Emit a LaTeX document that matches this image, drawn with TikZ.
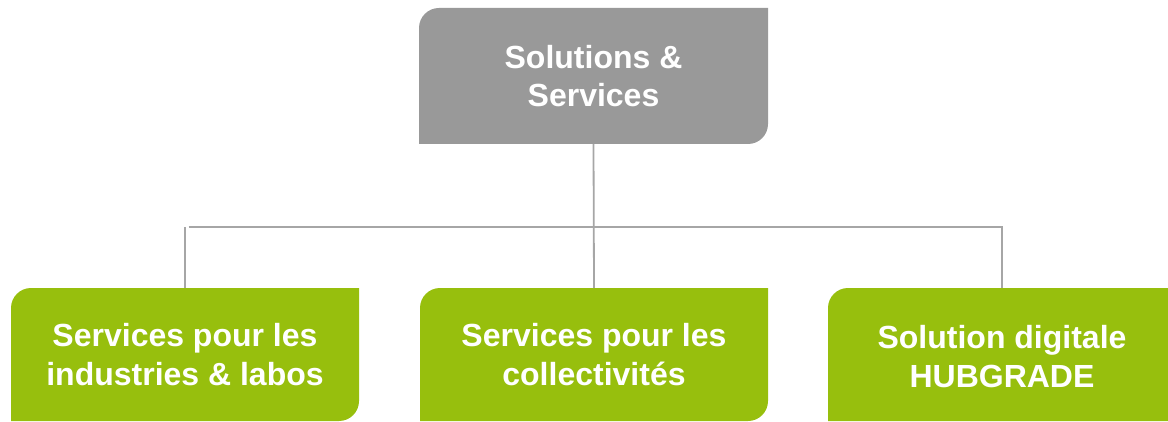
\documentclass[tikz,border=0pt]{standalone}
\usepackage{fontspec}
\setmainfont{Liberation Sans}
\definecolor{boxgray}{HTML}{999999}
\definecolor{boxgreen}{HTML}{97BF0D}
\definecolor{linegray}{HTML}{A6A6A6}
\begin{document}
\begin{tikzpicture}[x=1pt,y=1pt,
  box/.style={minimum width=348pt, minimum height=133pt, inner sep=0pt, outer sep=0pt,
    text=white, align=center, font=\fontsize{32}{38.5}\selectfont\bfseries,
    path picture={\fill[#1] (path picture bounding box.south west)
      -- ([yshift=-20pt]path picture bounding box.north west)
      arc[start angle=180,end angle=90,radius=20pt]
      -- (path picture bounding box.north east)
      -- ([yshift=20pt]path picture bounding box.south east)
      arc[start angle=0,end angle=-90,radius=20pt] -- cycle;}},
  conn/.style={draw=linegray, line width=1.8pt}]
\useasboundingbox (0,0) rectangle (1168,421);
\node[box=boxgray, minimum width=349pt, minimum height=136pt] (top) at (593.5,345) {Solutions \&\\Services};
\node[box=boxgreen] (left) at (185,66.5) {Services pour les\\industries \& labos};
\node[box=boxgreen] (mid) at (594,66.5) {Services pour les\\collectivités};
\node[box=boxgreen, minimum width=360pt] (right) at (1008,66.5) {};
\node[text=white, align=center, font=\fontsize{32}{38.5}\selectfont\bfseries, inner sep=0pt] (rightlabel) at (1002,64.5) {Solution digitale\\HUBGRADE};
\coordinate (hl) at (188.5,194);
\coordinate (hr) at (1002,194);
\draw[conn] (top.south) -- (mid.north);
\draw[conn] (hl) -- (hr) -- (hr |- right.north);
\draw[conn] (left.north |- hl) -- (left.north);
\end{tikzpicture}
\end{document}
